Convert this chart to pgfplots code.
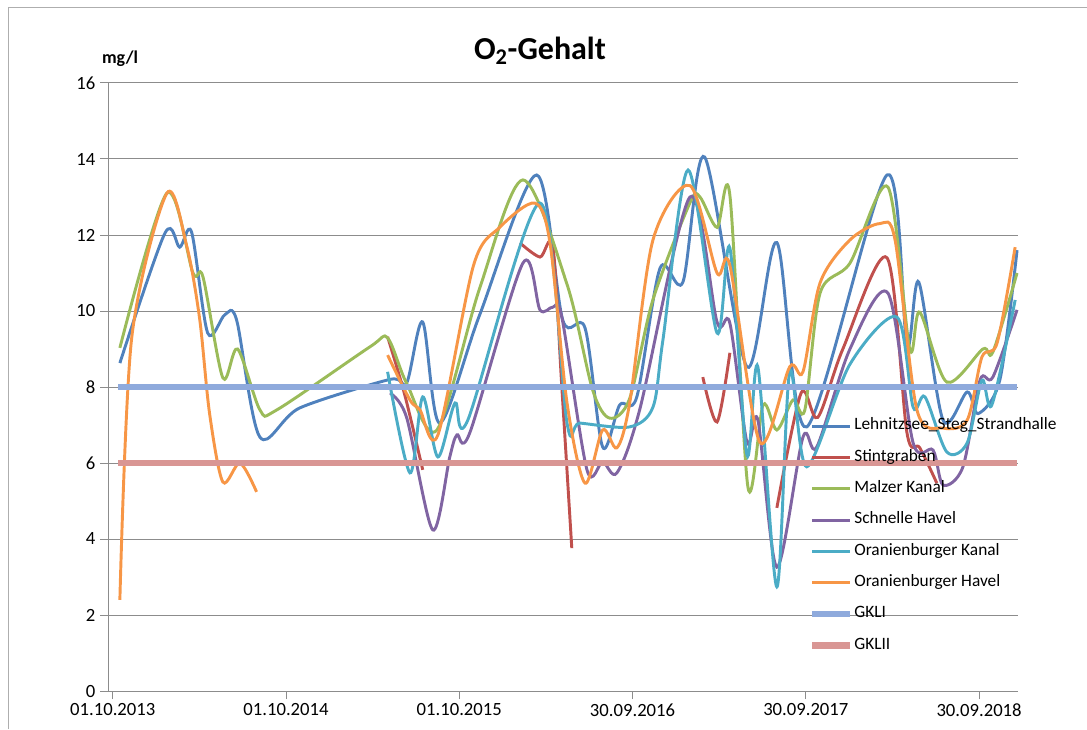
\documentclass[border=0pt]{standalone}
\usepackage{pgfplots}
\pgfplotsset{compat=1.18}
\usepackage{fontspec}
\setmainfont{Carlito}
\definecolor{cBlue}{HTML}{4F81BD}
\definecolor{cRed}{HTML}{C0504D}
\definecolor{cGreen}{HTML}{9BBB59}
\definecolor{cPurple}{HTML}{8064A2}
\definecolor{cCyan}{HTML}{4BACC6}
\definecolor{cOrange}{HTML}{F79646}
\definecolor{cGKI}{HTML}{8FAADC}
\definecolor{cGKII}{HTML}{D99694}
\definecolor{cGrid}{HTML}{8C8C8C}
\begin{document}
\begin{tikzpicture}
\useasboundingbox (0,0) rectangle (815.25pt,546.75pt);
\draw[cGrid!70, line width=0.75pt] (6pt,0pt) -- (6pt,540.75pt) -- (815.25pt,540.75pt);
\node[font=\fontsize{24}{28}\selectfont\bfseries] at (405pt,509pt) {O\textsubscript{2}-Gehalt};
\node[font=\fontsize{13.5}{16}\selectfont\bfseries] at (90pt,503pt) {mg/l};
\begin{axis}[
  at={(81pt,28.5pt)}, anchor=south west,
  scale only axis, width=682.5pt, height=456pt,
  xmin=-10, xmax=1907, ymin=0, ymax=16,
  axis lines=left, axis line style={-, draw=cGrid, line width=0.75pt},
  ytick={0,2,...,16},
  xtick={0,365,730,1095,1460,1825},
  xticklabels={01.10.2013,01.10.2014,01.10.2015,30.09.2016,30.09.2017,30.09.2018},
  tick align=outside, major tick length=6pt,
  tick style={draw=cGrid, line width=0.75pt},
  ymajorgrids, major grid style={draw=cGrid, line width=0.75pt},
  ticklabel style={font=\fontsize{14}{16}\selectfont},
  /pgf/number format/assume math mode=true,
  legend style={at={(0.770,0.462)}, anchor=north west, draw=none, fill=none,
    inner sep=0pt, font=\fontsize{13}{15}\selectfont,
    nodes={text height=13.5pt, text depth=8pt, inner sep=1pt},
    cells={anchor=west}},
  legend image code/.code={\draw[#1] (0pt,0pt) -- (28pt,0pt);},
  every axis plot/.append style={line width=2.2pt, smooth, tension=0.5},
  clip=false,
]
% Lehnitzsee_Steg_Strandhalle
\addplot[cBlue] coordinates {
(15,8.63) (110,12.05) (141,11.68) (166,12.08) (200,9.42) (236,9.90) (261,9.76)
(310,6.68) (394,7.45) (584,8.2) (619,8.1) (653,9.71) (689,7.05) (773,9.9)
(893,13.58) (948,9.76) (995,9.55) (1032,6.42) (1068,7.53) (1104,7.74)
(1153,11.13) (1201,10.76) (1247,14.05) (1336,8.53) (1399,11.8) (1462,6.95)
(1631,13.58) (1673,9.1) (1698,10.76) (1749,7.13) (1800,7.87) (1823,7.3)
(1869,8.2) (1905,11.6)};
\addlegendentry{Lehnitzsee\_Steg\_Strandhalle}
% Stintgraben
\addplot[cRed] coordinates {(579,9.32) (615,7.8) (653,5.82)};
\addlegendentry{Stintgraben}
\addplot[cRed, forget plot] coordinates {(858,11.79) (900,11.42) (927,11.7) (946,8.0) (967,3.76)};
\addplot[cRed, forget plot] coordinates {(1243,8.26) (1273,7.08) (1300,8.9)};
\addplot[cRed, forget plot] coordinates {(1399,4.82) (1450,7.84) (1485,7.2) (1538,9.0)
(1631,11.4) (1673,6.8) (1700,6.4) (1736,5.47)};
% Malzer Kanal
\addplot[cGreen] coordinates {
(15,9.03) (114,13.1) (169,11.0) (190,10.9) (232,8.24) (263,9.0) (310,7.4)
(346,7.4) (541,9.05) (579,9.29) (619,8.1) (683,6.87) (773,10.6) (864,13.45)
(957,10.7) (1011,7.92) (1047,7.18) (1089,7.7) (1138,10.3) (1216,12.85)
(1237,13.0) (1273,12.2) (1300,13.05) (1338,5.37) (1370,7.53) (1399,6.87)
(1433,7.66) (1458,7.4) (1490,10.47) (1553,11.26) (1633,13.26) (1679,9.0)
(1700,9.97) (1757,8.13) (1833,9.0) (1854,8.92) (1905,11.0)};
\addlegendentry{Malzer Kanal}
% Schnelle Havel
\addplot[cPurple] coordinates {
(584,7.84) (619,7.2) (674,4.24) (710,6.16) (725,6.74) (752,6.79) (864,11.26)
(900,10.03) (927,10.1) (946,9.84) (999,5.82) (1032,6.03) (1062,5.74)
(1110,7.4) (1216,13.0) (1273,9.71) (1300,9.68) (1336,6.55) (1359,7.13)
(1399,3.26) (1454,6.68) (1483,6.42) (1553,9.0) (1633,10.47) (1686,6.53)
(1728,6.34) (1749,5.42) (1791,5.9) (1827,8.18) (1854,8.26) (1905,10.03)};
\addlegendentry{Schnelle Havel}
% Oranienburger Kanal
\addplot[cCyan] coordinates {
(579,8.4) (626,5.74) (653,7.74) (685,6.16) (721,7.58) (748,7.13) (900,12.84)
(957,7.05) (984,7.05) (1089,6.95) (1138,7.47) (1159,9.24) (1212,13.71)
(1273,9.42) (1300,11.66) (1336,6.21) (1359,8.53) (1399,2.74) (1426,8.4)
(1462,5.9) (1553,8.6) (1652,9.84) (1686,7.47) (1711,7.74) (1757,6.29)
(1800,6.53) (1831,8.18) (1852,7.53) (1901,10.29)};
\addlegendentry{Oranienburger Kanal}
% Oranienburger Havel
\addplot[cOrange] coordinates {
(15,2.4) (40,9.3) (114,13.1) (156,11.7) (183,9.8) (204,7.3) (232,5.5) (268,6.0) (303,5.24)};
\addlegendentry{Oranienburger Havel}
\addplot[cOrange, forget plot] coordinates {
(579,8.84) (626,7.66) (647,7.4) (685,6.74) (760,11.2) (815,12.2) (889,12.84)
(921,11.8) (957,7.58) (995,5.47) (1032,6.87) (1062,6.4) (1089,7.58)
(1138,11.87) (1216,13.3) (1273,11.0) (1300,11.2) (1363,6.55) (1426,8.53)
(1454,8.4) (1490,10.74) (1553,11.87) (1616,12.3) (1648,11.87) (1694,7.4)
(1749,6.92) (1800,7.13) (1831,8.79) (1863,9.16) (1901,11.68)};
% Guideline classes
\addplot[cGKI, line width=5pt, sharp plot] coordinates {(12,8) (1905,8)};
\addlegendentry{GKLI}
\addplot[cGKII, line width=5pt, sharp plot] coordinates {(12,6) (1905,6)};
\addlegendentry{GKLII}
\end{axis}
\end{tikzpicture}
\end{document}
